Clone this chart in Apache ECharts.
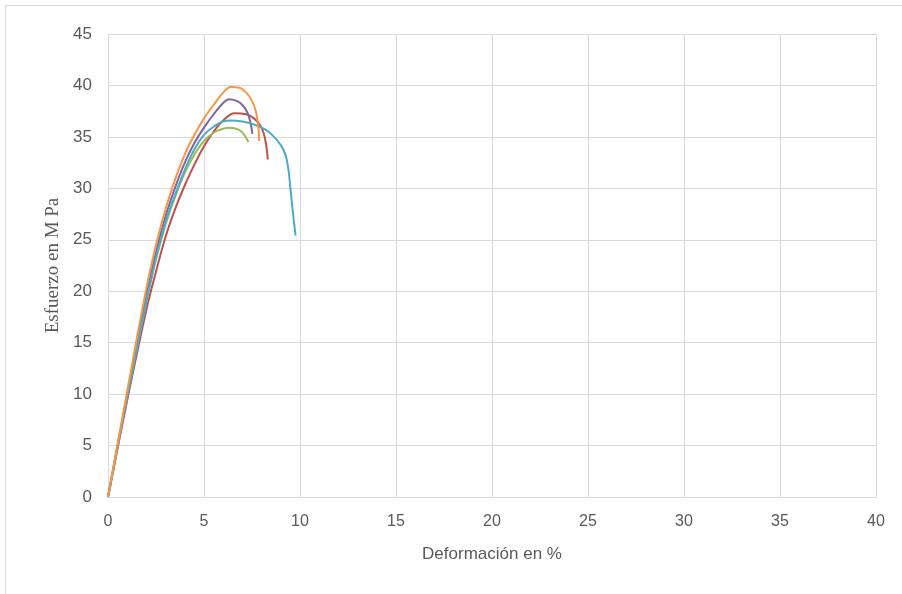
<!DOCTYPE html>
<html>
<head>
<meta charset="utf-8">
<script src="https://cdn.jsdelivr.net/npm/echarts@6/dist/echarts.min.js"></script>
<style>
  html, body { margin: 0; padding: 0; background: #fff; }
  #chart { width: 902px; height: 594px; }
</style>
</head>
<body>
<div id="chart"></div>
<script>
// curvas esfuerzo-deformación, [deformación %, esfuerzo MPa]
var probetaRoja = [[0,0],[1,9.4],[2,18.2],[2.5,21.9],[3,25.3],[3.5,28],[4,30.3],[4.5,32.3],[5,34.1],[5.5,35.5],[6,36.6],[6.6,37.3],[7.2,37.2],[7.6,36.8],[7.9,36.2],[8.1,35.4],[8.22,34.4],[8.3,33.3],[8.32,32.8]];
var probetaVerde = [[0,0],[1,9.8],[2,19],[2.5,23.1],[3,26.5],[3.5,29.2],[4,31.5],[4.5,33.3],[5,34.6],[5.5,35.4],[6,35.8],[6.35,35.9],[6.8,35.7],[7.1,35.2],[7.31,34.5]];
var probetaMorada = [[0,0],[1,9.9],[2,19.6],[2.5,23.8],[3,27.3],[3.5,30.1],[4,32.5],[4.5,34.4],[5,35.9],[5.5,37.2],[6,38.3],[6.3,38.65],[6.7,38.5],[7,38.1],[7.25,37.4],[7.42,36.4],[7.52,35.3]];
var probetaCian = [[0,0],[1,9.8],[2,19],[2.5,23.2],[3,26.7],[3.5,29.4],[4,31.8],[4.5,33.8],[5,35.2],[5.5,36],[6,36.5],[6.4,36.6],[7,36.5],[7.6,36.2],[8.2,35.7],[8.6,35.1],[9,34.2],[9.25,33.2],[9.4,31.8],[9.5,30],[9.6,28.2],[9.7,26.5],[9.77,25.4]];
var probetaNaranja = [[0,0],[1,10.3],[2,20.3],[2.5,24.5],[3,28],[3.5,30.9],[4,33.3],[4.5,35.2],[5,36.8],[5.5,38.1],[6,39.3],[6.4,39.85],[6.8,39.8],[7.2,39.3],[7.5,38.5],[7.7,37.5],[7.82,36.2],[7.88,34.6]];

var nombres = ['Probeta 1', 'Probeta 2', 'Probeta 3', 'Probeta 4', 'Probeta 5'];
var colores = ['#C0504D', '#9BBB59', '#8064A2', '#4BACC6', '#F79646'];
var datos = [probetaRoja, probetaVerde, probetaMorada, probetaCian, probetaNaranja];

var chart = echarts.init(document.getElementById('chart'));

var series = datos.map(function (d, i) {
  return {
    name: nombres[i],
    type: 'line',
    data: d,
    smooth: 0.4,
    showSymbol: false,
    lineStyle: { color: colores[i], width: 2 },
    itemStyle: { color: colores[i] }
  };
});

var option = {
  animation: false,
  backgroundColor: '#fff',
  graphic: [{
    type: 'rect',
    shape: { x: 5.5, y: 5.5, width: 1000, height: 1000 },
    style: { fill: 'none', stroke: '#d9d9d9', lineWidth: 1 }
  }],
  grid: { left: 108, right: 26, top: 34, bottom: 97 },
  xAxis: {
    type: 'value',
    min: 0, max: 40, interval: 5,
    name: 'Deformación en %',
    nameLocation: 'middle',
    nameGap: 49,
    nameTextStyle: { fontFamily: 'Liberation Sans', fontSize: 17, color: '#595959' },
    axisLine: { lineStyle: { color: '#d9d9d9' } },
    axisTick: { show: false },
    axisLabel: { fontFamily: 'Liberation Sans', fontSize: 16, color: '#595959', margin: 17 },
    splitLine: { lineStyle: { color: '#d9d9d9' } }
  },
  yAxis: {
    type: 'value',
    min: 0, max: 45, interval: 5,
    name: 'Esfuerzo en M Pa',
    nameLocation: 'middle',
    nameGap: 45,
    nameTextStyle: { fontFamily: 'Liberation Serif', fontSize: 19, color: '#595959' },
    axisLine: { show: true, lineStyle: { color: '#d9d9d9' } },
    axisTick: { show: false },
    axisLabel: { fontFamily: 'Liberation Sans', fontSize: 17, color: '#595959', margin: 16 },
    splitLine: { lineStyle: { color: '#d9d9d9' } }
  },
  series: series
};

chart.setOption(option);
</script>
</body>
</html>
